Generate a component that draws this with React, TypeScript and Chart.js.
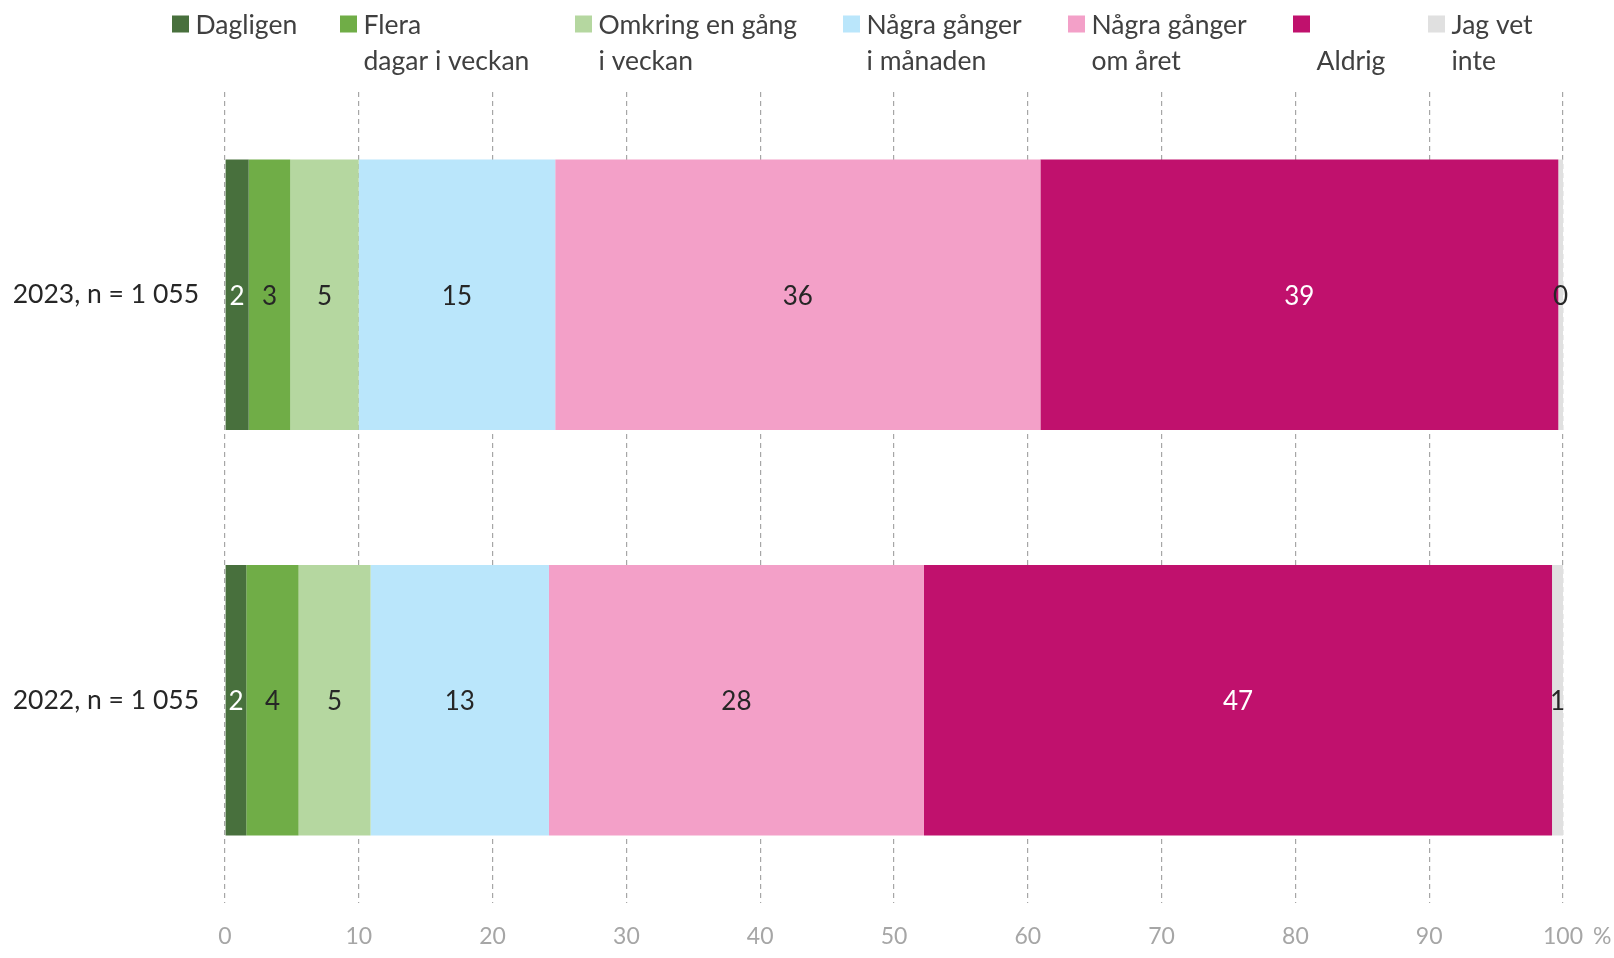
import React, { useEffect, useRef } from "react";
import { Chart, registerables } from "chart.js";

Chart.register(...registerables);

// ---------- data ----------
const categories = ["2023, n = 1 055", "2022, n = 1 055"];

const seriesLabels: string[][] = [
  ["Dagligen"],
  ["Flera", "dagar i veckan"],
  ["Omkring en gång", "i veckan"],
  ["Några gånger", "i månaden"],
  ["Några gånger", "om året"],
  ["", "Aldrig"],
  ["Jag vet", "inte"],
];

const seriesColors = ["#48703D", "#70AD47", "#B5D7A0", "#BAE6FB", "#F3A0C8", "#C0116D", "#E0E0E0"];
const labelColors = ["#FFFFFF", "#262626", "#262626", "#262626", "#262626", "#FFFFFF", "#262626"];

const dagligen = [1.77, 1.59];
const fleraDagar = [3.11, 3.91];
const omkringEnGang = [5.11, 5.38];
const nagraGangerManaden = [14.69, 13.33];
const nagraGangerAret = [36.26, 28.03];
const aldrig = [38.71, 46.94];
const jagVetInte = [0.35, 0.82];

const seriesValues = [dagligen, fleraDagar, omkringEnGang, nagraGangerManaden, nagraGangerAret, aldrig, jagVetInte];

const xMin = 0;
const xMax = 100;
const xStep = 10;
const axisUnit = "%";

// ---------- layout / style ----------
const W = 1614;
const H = 958;
const FONT = "Lato, 'Open Sans', sans-serif";
const LEGEND_X = [172, 340, 575, 843, 1068, 1293, 1428];
const LEGEND_Y1 = 25;
const LEGEND_Y2 = 61;
const LEGEND_BOX = 17;
const LEGEND_TEXT_GAP = 6.5;
const TICK_SIZE = 23;
const TICK_PAD = 20;

const legendPlugin = {
  id: "customLegend",
  afterDraw(chart: any) {
    const ctx = chart.ctx;
    ctx.save();
    ctx.font = `26.5px ${FONT}`;
    ctx.textBaseline = "middle";
    ctx.textAlign = "left";
    chart.data.datasets.forEach((ds: any, i: number) => {
      const x = LEGEND_X[i];
      ctx.fillStyle = ds.backgroundColor;
      ctx.fillRect(x, LEGEND_Y1 - 1 - LEGEND_BOX / 2, LEGEND_BOX, LEGEND_BOX);
      ctx.fillStyle = "#404040";
      const lines: string[] = ds.legendLines;
      lines.forEach((line, li) => {
        if (line) ctx.fillText(line, x + LEGEND_BOX + LEGEND_TEXT_GAP, li === 0 ? LEGEND_Y1 : LEGEND_Y2);
      });
    });
    ctx.restore();
  },
};

const dataLabelPlugin = {
  id: "dataLabels",
  afterDatasetsDraw(chart: any) {
    const ctx = chart.ctx;
    ctx.save();
    ctx.font = `26px ${FONT}`;
    ctx.textAlign = "center";
    ctx.textBaseline = "middle";
    chart.data.datasets.forEach((ds: any, i: number) => {
      const meta = chart.getDatasetMeta(i);
      meta.data.forEach((el: any, j: number) => {
        const { x, y, base } = el.getProps(["x", "y", "base"], true);
        ctx.fillStyle = labelColors[i];
        ctx.fillText(String(Math.round(ds.data[j])), (x + base) / 2, y + 1.5);
      });
    });
    ctx.restore();
  },
};

const unitPlugin = {
  id: "axisUnit",
  afterDraw(chart: any) {
    const ctx = chart.ctx;
    const xs = chart.scales.x;
    ctx.save();
    ctx.font = `${TICK_SIZE}px ${FONT}`;
    ctx.fillStyle = "#A6A6A6";
    ctx.textBaseline = "middle";
    ctx.textAlign = "left";
    const px = xs.getPixelForValue(xMax);
    const w = ctx.measureText(String(xMax)).width;
    ctx.fillText(axisUnit, px + w / 2 + 10, xs.top + TICK_PAD + TICK_SIZE * 0.6);
    ctx.restore();
  },
};

export default function App() {
  const ref = useRef<HTMLCanvasElement>(null);

  useEffect(() => {
    if (!ref.current) return;
    const chart = new Chart(ref.current, {
      type: "bar",
      data: {
        labels: categories,
        datasets: seriesValues.map((vals, i) => ({
          label: seriesLabels[i].filter(Boolean).join(" "),
          legendLines: seriesLabels[i],
          data: vals,
          backgroundColor: seriesColors[i],
          borderWidth: 0,
          barPercentage: 0.667,
          categoryPercentage: 1,
        })) as any,
      },
      options: {
        indexAxis: "y",
        responsive: false,
        animation: false,
        layout: { padding: { left: 0, right: 51, top: 92, bottom: 0 } },
        plugins: {
          legend: { display: false },
          tooltip: { enabled: false },
        },
        scales: {
          x: {
            stacked: true,
            min: xMin,
            max: xMax,
            ticks: {
              stepSize: xStep,
              color: "#A6A6A6",
              font: { family: FONT, size: TICK_SIZE },
              padding: TICK_PAD,
            },
            grid: {
              color: "#A6A6A6",
              lineWidth: 1.2,
              drawTicks: false,
            },
            border: { display: false, dash: [5, 4] },
            afterFit: (s: any) => {
              s.height = 55;
            },
          } as any,
          y: {
            stacked: true,
            ticks: {
              color: "#262626",
              font: { family: FONT, size: 26.5 },
              padding: 26,
            },
            grid: { display: false, drawTicks: false },
            border: { display: false },
            afterFit: (s: any) => {
              s.width = 225;
            },
          } as any,
        },
      },
      plugins: [dataLabelPlugin, legendPlugin, unitPlugin],
    });
    return () => chart.destroy();
  }, []);

  return (
    <div style={{ position: "absolute", left: 0, top: 0, width: W, height: H, background: "#fff" }}>
      <canvas ref={ref} width={W} height={H} />
    </div>
  );
}
